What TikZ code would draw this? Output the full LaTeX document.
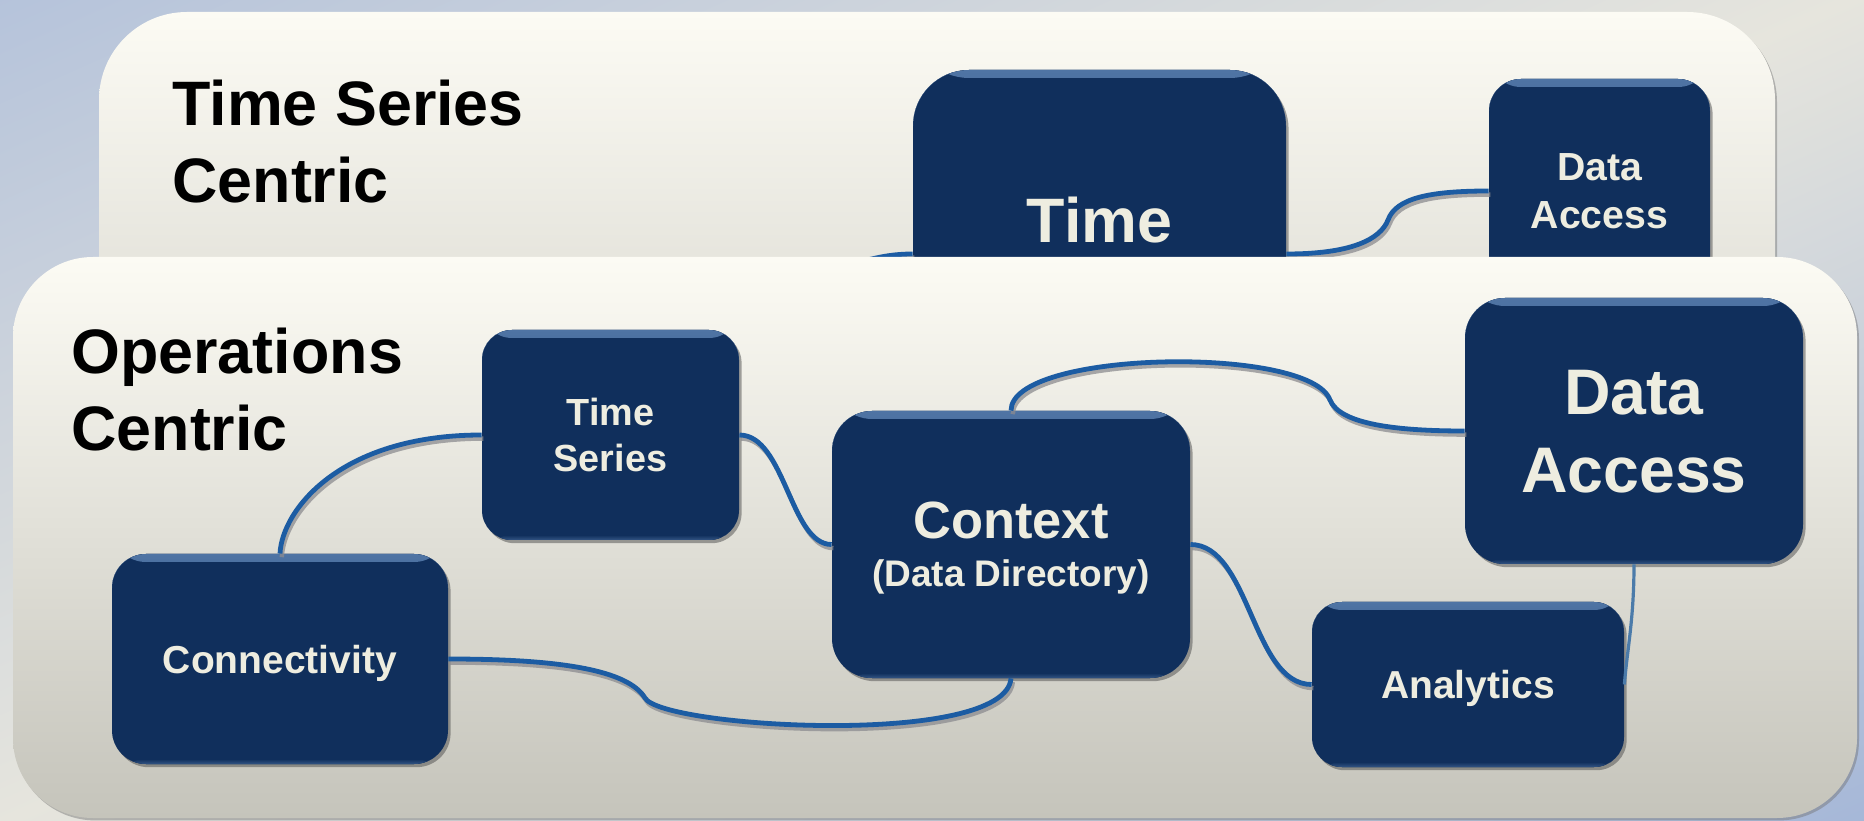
\documentclass[tikz,border=0pt]{standalone}
\usepackage{fontspec}
\setmainfont{Liberation Sans}
\usetikzlibrary{shadows}

\definecolor{bgbase}{HTML}{E6E5DD}
\definecolor{bgblue}{HTML}{B5C3DB}
\definecolor{bgblue2}{HTML}{A5B7D8}
\definecolor{paneltop}{HTML}{FCFBF4}
\definecolor{panelbot}{HTML}{C5C4BB}
\definecolor{navy}{HTML}{102F5C}
\definecolor{rimhi}{HTML}{4F74A4}
\definecolor{cardtext}{HTML}{EEEDE0}
\definecolor{wire}{HTML}{1C5CA3}
\definecolor{wirelight}{HTML}{4B7BAA}
\definecolor{wireshadow}{HTML}{8C8C90}

\newcommand\fsz[2]{\fontsize{#1}{#2}\selectfont}

\begin{document}
\begin{tikzpicture}[x=0.5pt,y=0.5pt,
  panel/.style={top color=paneltop, bottom color=panelbot, rounded corners=#1,
    drop shadow={shadow xshift=1pt, shadow yshift=-1.2pt, fill=black!55, opacity=0.45}},
  card/.style={fill=navy, rounded corners=#1, inner sep=0pt, align=center, text=cardtext,
    text depth=0pt,
    drop shadow={shadow xshift=1.3pt, shadow yshift=-1.6pt, fill=black!70, opacity=0.5},
    path picture={
      \fill[top color=rimhi, bottom color=navy]
        (path picture bounding box.north west) rectangle ([yshift=-4pt]path picture bounding box.north east);
      \fill[top color=navy, bottom color=rimhi!55!navy]
        ([yshift=2.5pt]path picture bounding box.south west) rectangle (path picture bounding box.south east);
    }},
  card/.default=18pt,
  wire/.style={draw=wire, line width=2.4pt,
    preaction={draw=wireshadow, line width=2.2pt, opacity=0.75,
      transform canvas={xshift=0.9pt, yshift=-1.8pt}}},
  thinwire/.style={draw=wirelight, line width=1.6pt},
  title/.style={anchor=north west, inner sep=0pt, align=left, text=black,
    font=\bfseries\fsz{31.4}{38.5}},
]
\useasboundingbox (0,0) rectangle (1864,820);

% backdrop: diagonal blend, blue at the upper left and lower right corners
\begin{scope}
  \clip (0,0) rectangle (1864,820);
  \begin{scope}[transform canvas={rotate around={24:(932,410)}}]
    \fill[bgblue]  (-300,1160) rectangle (2164,1560);
    \fill[bgblue2] (-300,-740) rectangle (2164,-340);
    \shade[top color=bgblue, bottom color=bgbase] (-300,410) rectangle (2164,1170);
    \shade[top color=bgbase, bottom color=bgblue2] (-300,-350) rectangle (2164,411);
  \end{scope}
\end{scope}

% rear panel
\path[panel=44pt] (99,180) rectangle (1775,808);
\node[title] (tstitle) at (172,740) {Time Series\\Centric};

\node[card=28pt, minimum width=186.5pt, minimum height=150pt,
      font=\bfseries\fsz{31.4}{38}] (time) at (1099.5,600) {Time};
\node[card=16pt, minimum width=110.5pt, minimum height=112pt,
      font=\bfseries\fsz{19.6}{24}] (dat) at (1599.5,629) {Data\\Access};

\coordinate (feed) at (815,548);
\draw[wire] (feed) to[out=8,in=180] ([yshift=-17pt]time.west);
\draw[wire] ([yshift=-17pt]time.east) .. controls (1350,566) and (1380,580) .. (1388,600)
  .. controls (1396,622) and (1430,629) .. (dat.west);

% front panel
\path[panel=40pt] (13,2) rectangle (1857,563);
\node[title] (opstitle) at (71,492) {Operations\\Centric};

\node[card=15pt, minimum width=128.5pt, minimum height=105pt,
      font=\bfseries\fsz{18.9}{23}] (ts) at (610.5,385) {Time\\Series};
\node[card=17pt, minimum width=168pt, minimum height=105pt,
      font=\bfseries\fsz{19.5}{23}] (conn) at (280,161) {Connectivity};
\node[card=20pt, minimum width=179pt, minimum height=133.5pt,
      font=\bfseries\fsz{26.2}{24}] (ctx) at (1011,275.5)
      {Context\\{\fsz{18.5}{24}(Data Directory)}};
\node[card=20pt, minimum width=169pt, minimum height=133pt,
      font=\bfseries\fsz{32.2}{39}] (da) at (1634,389) {Data\\Access};
\node[card=15pt, minimum width=156pt, minimum height=82.5pt,
      font=\bfseries\fsz{19.5}{23}] (an) at (1468,135.5) {Analytics};

\draw[wire] (conn.north) .. controls (282,310) and (340,385) .. (ts.west);
\draw[wire] (ts.east) .. controls (785,385) and (790,275.5) .. (ctx.west);
\draw[wire] (conn.east) .. controls (560,161) and (628,150) .. (645,122)
  .. controls (662,92) and (1005,72) .. (ctx.south);
\draw[wire] (ctx.north) .. controls (1011,470) and (1310,475) .. (1330,420)
  .. controls (1340,395) and (1400,389) .. (da.west);
\draw[wire] (ctx.east) .. controls (1250,275.5) and (1252,135.5) .. (an.west);
\draw[thinwire] (da.south) .. controls (1634,200) and (1627,170) .. (an.east);
\end{tikzpicture}
\end{document}
